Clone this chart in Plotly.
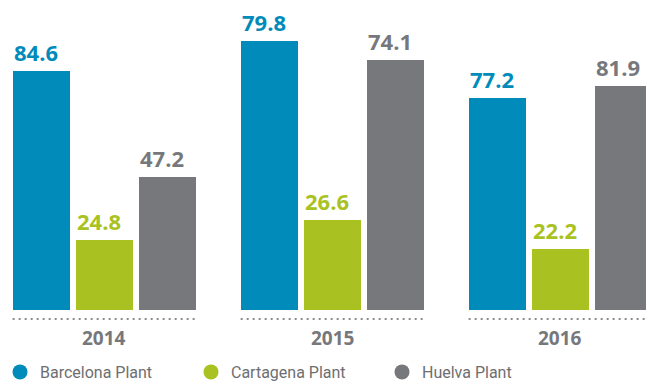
import plotly.graph_objects as go

# Data
years = ["2014", "2015", "2016"]
plants = ["Barcelona Plant", "Cartagena Plant", "Huelva Plant"]
barcelona = [84.6, 79.8, 77.2]
cartagena = [24.8, 26.6, 22.2]
huelva = [47.2, 74.1, 81.9]

colors = ["#008bba", "#a9c221", "#76787c"]
gray_text = "#77787b"
label_font = "Open Sans"
legend_font = "Roboto"

W, H = 646, 381
plot_h = 310  # height of plotting area (baseline at y=310 px)

# each year gets its own panel: pixel domain and vertical scale (px per unit)
panels = [
    dict(x0=9.5, x1=198.5, xmax=2.5, ymax=plot_h / 2.82),
    dict(x0=237.5, x1=426.5, xmax=2.5, ymax=plot_h / 3.37),
    dict(x0=465.5, x1=646.0, xmax=-0.5 + 180.5 / 63, ymax=plot_h / 2.74),
]

series = [barcelona, cartagena, huelva]

fig = go.Figure()
annotations = []
shapes = []
for gi, (year, p) in enumerate(zip(years, panels)):
    sfx = "" if gi == 0 else str(gi + 1)
    xa, ya = "x" + sfx, "y" + sfx
    vals = [s[gi] for s in series]
    fig.add_trace(go.Bar(
        x=[0, 1, 2], y=vals, width=0.9,
        marker=dict(color=colors, line=dict(width=0)),
        showlegend=False, hoverinfo="skip",
        xaxis=xa, yaxis=ya,
    ))
    for i, v in enumerate(vals):
        annotations.append(dict(
            x=i, y=v, xref=xa, yref=ya, text=f"<b>{v:.1f}</b>",
            showarrow=False, yanchor="bottom", xanchor="center",
            xshift=-5, yshift=2,
            font=dict(family=label_font, size=22, color=colors[i]),
        ))
    # year label under each group
    annotations.append(dict(
        x=1, y=(plot_h - 338) / plot_h, xref=xa, yref="paper",
        text=f"<b>{year}</b>", showarrow=False,
        xanchor="center", yanchor="middle",
        font=dict(family=label_font, size=19, color=gray_text),
    ))
    # dotted rule under each group
    shapes.append(dict(
        type="line", xref=xa, yref="paper",
        x0=-0.45, x1=2.48, y0=-9 / plot_h, y1=-9 / plot_h,
        line=dict(color="#8a8c8f", width=2, dash="2px,4px"),
    ))
    fig.layout["xaxis" + sfx] = dict(
        domain=[p["x0"] / W, p["x1"] / W], range=[-0.5, p["xmax"]],
        visible=False, anchor=ya, fixedrange=True,
    )
    fig.layout["yaxis" + sfx] = dict(
        range=[0, p["ymax"]], visible=False, anchor=xa, fixedrange=True,
    )

# legend entries
for name, c in zip(plants, colors):
    fig.add_trace(go.Scatter(
        x=[None], y=[None], mode="markers", name=name,
        marker=dict(size=15, color=c, symbol="circle"),
    ))

fig.update_layout(
    width=W, height=H,
    margin=dict(l=0, r=0, t=0, b=H - plot_h, autoexpand=False),
    paper_bgcolor="white", plot_bgcolor="white",
    annotations=annotations, shapes=shapes,
    bargap=0,
    legend=dict(
        orientation="h", x=0, xanchor="left",
        y=(plot_h - 372) / plot_h, yanchor="middle",
        entrywidth=146, entrywidthmode="pixels",
        font=dict(family=legend_font, size=16, color="#6d6e71"),
        itemclick=False, itemdoubleclick=False,
    ),
)

fig.write_html("out.html")
